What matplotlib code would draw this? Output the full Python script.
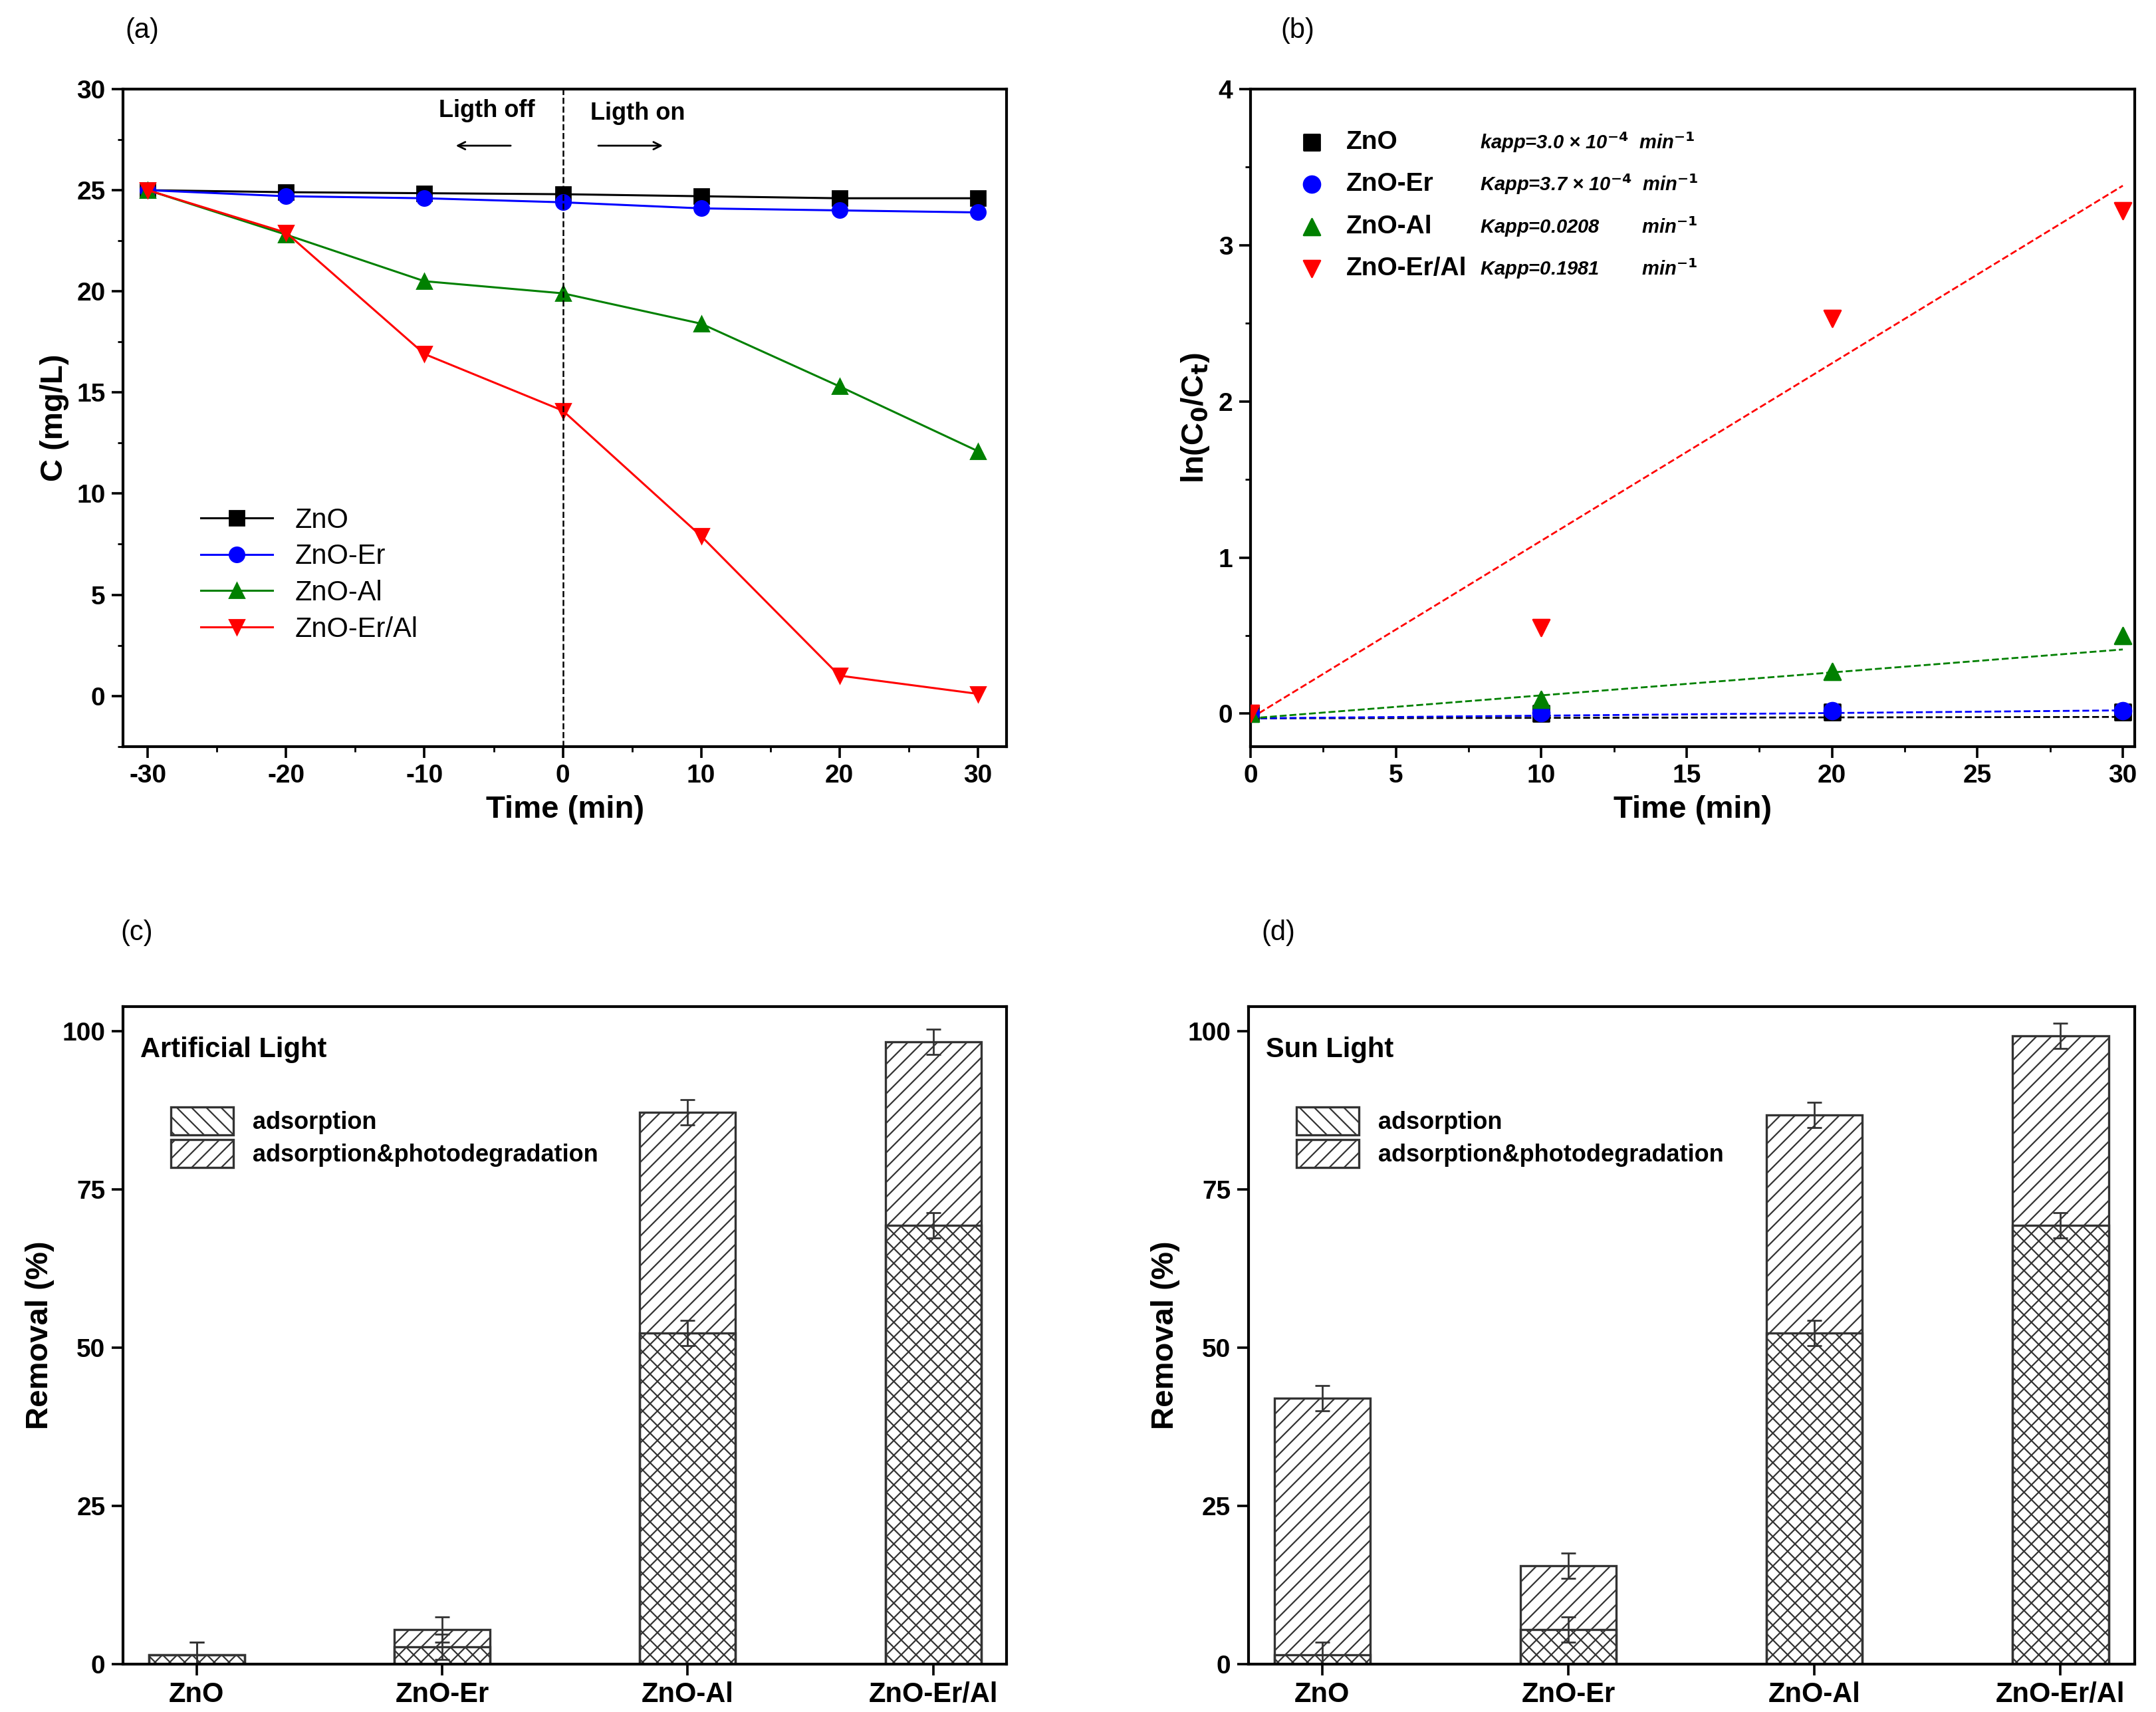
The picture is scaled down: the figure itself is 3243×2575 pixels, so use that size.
import numpy as np
import matplotlib.pyplot as plt
from matplotlib.ticker import AutoMinorLocator

plt.rcParams['font.family'] = ['Liberation Sans', 'DejaVu Sans']
plt.rcParams['hatch.linewidth'] = 0.8
plt.rcParams['axes.unicode_minus'] = False

# ------------------ DATA ------------------
names = ['ZnO', 'ZnO-Er', 'ZnO-Al', 'ZnO-Er/Al']
colors = ['black', 'blue', 'green', 'red']
markers = ['s', 'o', '^', 'v']

time_a = [-30, -20, -10, 0, 10, 20, 30]
conc = {
    'ZnO':       [25.0, 24.9, 24.85, 24.8, 24.7, 24.6, 24.6],
    'ZnO-Er':    [25.0, 24.7, 24.6, 24.4, 24.1, 24.0, 23.9],
    'ZnO-Al':    [25.0, 22.8, 20.5, 19.9, 18.4, 15.3, 12.1],
    'ZnO-Er/Al': [25.0, 22.9, 16.9, 14.1, 7.9, 1.0, 0.1],
}

time_b = [0, 10, 20, 30]
lnc = {
    'ZnO':       [0.0, 0.0, 0.01, 0.01],
    'ZnO-Er':    [0.0, 0.005, 0.02, 0.02],
    'ZnO-Al':    [0.0, 0.09, 0.27, 0.50],
    'ZnO-Er/Al': [0.0, 0.55, 2.53, 3.22],
}
fit_slope = {'ZnO': 0.0003, 'ZnO-Er': 0.0017, 'ZnO-Al': 0.0147, 'ZnO-Er/Al': 0.1137}
fit_icpt = {'ZnO': -0.03, 'ZnO-Er': -0.03, 'ZnO-Al': -0.03, 'ZnO-Er/Al': -0.03}
kapp_text = [r'kapp=3.0 × 10$^{\mathbf{-4}}$  min$^{\mathbf{-1}}$',
             r'Kapp=3.7 × 10$^{\mathbf{-4}}$  min$^{\mathbf{-1}}$',
             r'Kapp=0.0208        min$^{\mathbf{-1}}$',
             r'Kapp=0.1981        min$^{\mathbf{-1}}$']

ads_c = [1.5, 2.7, 52.3, 69.3]
tot_c = [1.5, 5.5, 87.2, 98.3]
ads_d = [1.5, 5.5, 52.3, 69.3]
tot_d = [42.0, 15.5, 86.8, 99.3]
err = 2.0
# ------------------------------------------

fig = plt.figure(figsize=(16.215, 12.875), dpi=200)
ax_a = fig.add_axes([0.057, 0.564, 0.410, 0.384])
ax_b = fig.add_axes([0.580, 0.564, 0.410, 0.384])
ax_c = fig.add_axes([0.057, 0.028, 0.410, 0.384])
ax_d = fig.add_axes([0.579, 0.028, 0.411, 0.384])


def style(ax):
    for s in ax.spines.values():
        s.set_linewidth(1.5)
    ax.tick_params(direction='out', width=1.3, length=6, labelsize=14)
    ax.tick_params(which='minor', direction='out', width=1.0, length=3)
    for lab in ax.get_xticklabels() + ax.get_yticklabels():
        lab.set_fontweight('bold')


# (a)
for n, c, m in zip(names, colors, markers):
    ax_a.plot(time_a, conc[n], color=c, marker=m, ms=8, lw=1.1, label=n)
ax_a.axvline(0, color='black', ls='--', lw=0.9)
ax_a.set_xlim(-31.8, 32.1)
ax_a.set_ylim(-2.5, 30)
ax_a.set_xticks(range(-30, 31, 10))
ax_a.set_yticks(range(0, 31, 5))
ax_a.xaxis.set_minor_locator(AutoMinorLocator(2))
ax_a.yaxis.set_minor_locator(AutoMinorLocator(2))
ax_a.set_xlabel('Time (min)', fontsize=17, fontweight='bold')
ax_a.set_ylabel('C (mg/L)', fontsize=17, fontweight='bold')
ax_a.text(-2, 28.6, 'Ligth off', ha='right', fontsize=13, fontweight='bold')
ax_a.text(2, 28.5, 'Ligth on', ha='left', fontsize=13, fontweight='bold')
ax_a.annotate('', xy=(-8, 27.2), xytext=(-3.5, 27.2),
              arrowprops=dict(arrowstyle='->', lw=1))
ax_a.annotate('', xy=(7.5, 27.2), xytext=(2.3, 27.2),
              arrowprops=dict(arrowstyle='->', lw=1))
ax_a.legend(loc='lower left', bbox_to_anchor=(0.06, 0.12), frameon=False,
            fontsize=15, handlelength=2.6, labelspacing=0.35)
style(ax_a)

# (b)
xs = np.array([0, 30])
for i, (n, c, m) in enumerate(zip(names, colors, markers)):
    ax_b.scatter(time_b, lnc[n], color=c, marker=m, s=80, zorder=3)
    ax_b.plot(xs, fit_slope[n] * xs + fit_icpt[n], color=c, ls='--', lw=1)
    y = 3.66 - i * 0.27
    ax_b.scatter([2.1], [y], color=c, marker=m, s=80, clip_on=False)
    ax_b.text(3.3, y, n, fontsize=14, fontweight='bold', va='center')
    ax_b.text(7.9, y, kapp_text[i], fontsize=10.5, fontweight='bold',
              fontstyle='italic', va='center')
ax_b.set_xlim(0, 30.4)
ax_b.set_ylim(-0.21, 4)
ax_b.set_xticks(range(0, 31, 5))
ax_b.set_yticks(range(0, 5))
ax_b.xaxis.set_minor_locator(AutoMinorLocator(2))
ax_b.yaxis.set_minor_locator(AutoMinorLocator(2))
ax_b.set_xlabel('Time (min)', fontsize=17, fontweight='bold')
ax_b.set_ylabel(r'ln(C$_\mathbf{0}$/C$_\mathbf{t}$)', fontsize=17, fontweight='bold')
style(ax_b)


# (c), (d)
def bars(ax, ads, tot, title):
    x = np.arange(len(names))
    ax.bar(x, tot, width=0.39, facecolor='none', edgecolor='#333333',
           hatch='///', lw=1.2, label='adsorption')
    ax.bar(x, ads, width=0.39, facecolor='none', edgecolor='#333333',
           hatch='\\\\\\', lw=1.2, label='adsorption&photodegradation')
    ax.errorbar(x, tot, yerr=err, fmt='none', ecolor='#333333', capsize=4, lw=1)
    ax.errorbar(x, ads, yerr=err, fmt='none', ecolor='#333333', capsize=4, lw=1)
    ax.set_xlim(-0.3, 3.3)
    ax.set_ylim(0, 103.9)
    ax.set_yticks([0, 25, 50, 75, 100])
    ax.set_xticks(x)
    ax.set_xticklabels(names, fontsize=15, fontweight='bold')
    ax.tick_params(axis='x', length=0)
    ax.set_ylabel('Removal (%)', fontsize=17, fontweight='bold')
    ax.text(0.02, 0.955, title, transform=ax.transAxes, fontsize=15,
            fontweight='bold', va='top')
    h, l = ax.get_legend_handles_labels()
    ax.legend(h[::-1], ['adsorption', 'adsorption&photodegradation'],
              loc='upper left', bbox_to_anchor=(0.03, 0.88), frameon=False,
              prop={'size': 13, 'weight': 'bold'}, handlelength=2.6,
              handleheight=1.4, labelspacing=0.2)
    style(ax)
    ax.tick_params(axis='x', labelsize=15)


bars(ax_c, ads_c, tot_c, 'Artificial Light')
bars(ax_d, ads_d, tot_d, 'Sun Light')

for lab, x, y in [('(a)', 0.058, 0.982), ('(b)', 0.594, 0.982),
                  ('(c)', 0.056, 0.455), ('(d)', 0.585, 0.455)]:
    fig.text(x, y, lab, fontsize=15, va='center')

fig.savefig('out.png', dpi=200, facecolor='white')
